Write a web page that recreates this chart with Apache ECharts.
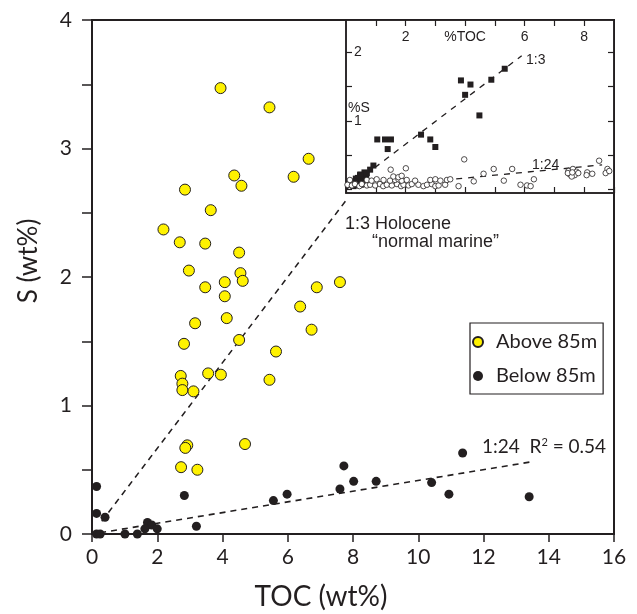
<!DOCTYPE html>
<html>
<head>
<meta charset="utf-8">
<script src="https://cdn.jsdelivr.net/npm/echarts/dist/echarts.min.js"></script>
<style>
html,body{margin:0;padding:0;background:#fff;}
#chart{width:637px;height:614px;}
</style>
</head>
<body>
<div id="chart"></div>
<script>
// ---------- Main plot data (TOC wt%, S wt%) ----------
const aboveTOC = [3.94,5.44,6.64,4.36,6.18,4.58,2.85,3.64,2.19,2.69,3.47,4.51,2.97,4.55,4.62,4.07,3.47,4.07,6.89,7.60,6.38,3.16,4.13,6.73,2.82,4.51,5.64,2.72,2.77,2.77,3.11,3.56,3.95,5.44,2.92,2.86,4.69,2.73,3.23];
const aboveS   = [3.47,3.32,2.92,2.79,2.78,2.71,2.68,2.52,2.37,2.27,2.26,2.19,2.05,2.03,1.97,1.96,1.92,1.85,1.92,1.96,1.77,1.64,1.68,1.59,1.48,1.51,1.42,1.23,1.17,1.12,1.11,1.25,1.24,1.20,0.69,0.67,0.70,0.52,0.50];
const belowTOC = [0.14,0.14,0.40,0.14,0.25,1.01,1.39,1.70,1.83,1.62,2.00,2.83,3.20,5.56,5.98,7.60,7.72,8.02,8.71,10.41,10.94,11.36,13.40];
const belowS   = [0.37,0.16,0.13,0.00,0.00,0.00,0.00,0.09,0.07,0.04,0.04,0.30,0.06,0.26,0.31,0.35,0.53,0.41,0.41,0.40,0.31,0.63,0.29];
const line13TOC = [0.3, 7.8];
const line13S   = [0.1, 2.6];
const line24TOC = [0.25, 13.5];
const line24S   = [0.01, 0.563];
const mainXTicks = [0,2,4,6,8,10,12,14,16];
const mainYTicks = [0,1,2,3,4];

// ---------- Inset data (%TOC, %S) ----------
const sqTOC = [5.33,4.88,3.86,4.18,4.00,4.48,2.52,2.83,3.00,1.05,1.31,1.51,1.40,0.92,0.81,
               0.35,0.40,0.48,0.55,0.62,0.30,0.45,0.55,0.68,0.38,0.25,0.42,0.50,0.33,0.60,0.28,0.47,0.70];
const sqS   = [1.76,1.60,1.59,1.53,1.38,1.08,0.80,0.73,0.62,0.73,0.73,0.73,0.59,0.35,0.29,
               0.12,0.17,0.22,0.18,0.25,0.08,0.10,0.12,0.20,0.06,0.05,0.14,0.07,0.16,0.14,0.12,0.21,0.24];
const ocTOC = [0.05,0.20,0.30,0.45,0.53,0.70,0.81,0.98,1.14,1.25,1.37,1.54,1.71,1.85,1.93,2.10,2.21,2.43,2.60,2.72,2.88,3.00,3.11,3.33,3.78,5.86,6.08,6.20,
               0.13,0.70,0.86,1.03,1.26,1.48,1.65,1.76,1.87,2.04,2.32,2.83,3.00,3.17,3.39,3.50,
               1.59,1.76,1.87,
               1.50,2.01,3.97,4.96,5.58,4.62,4.29,5.30,6.31,
               7.47,7.62,7.74,7.52,7.68,7.58,7.80,7.45,7.60,
               8.10,8.08,8.27,8.50,8.78,8.72,8.84];
const ocS   = [0.07,0.06,0.08,0.05,0.08,0.06,0.07,0.06,0.08,0.05,0.07,0.06,0.08,0.05,0.07,0.06,0.08,0.07,0.05,0.07,0.08,0.05,0.06,0.07,0.05,0.07,0.06,0.05,
               0.14,0.14,0.13,0.15,0.14,0.13,0.14,0.15,0.13,0.14,0.13,0.14,0.15,0.13,0.14,0.15,
               0.19,0.18,0.20,
               0.29,0.31,0.44,0.30,0.30,0.23,0.12,0.13,0.15,
               0.27,0.30,0.26,0.22,0.21,0.19,0.24,0.24,0.25,
               0.25,0.21,0.23,0.42,0.30,0.24,0.27];
const in13TOC = [0, 5.9];
const in13S   = [0, 1.95];
const in24TOC = [3.7, 8.6];
const in24S   = [0.155, 0.36];
const insetXLabels = {2:'2', 4:'%TOC', 6:'6', 8:'8'};
const insetYTicks = [0, 0.5, 1, 1.5, 2];
const insetYLabels = [1, 2];

const zip = (a,b) => a.map((v,i)=>[v,b[i]]);
const INK = '#231f20';
const SANS = 'Lato';
const ARIAL = 'Liberation Sans';

const chart = echarts.init(document.getElementById('chart'), null, {renderer:'canvas'});
const dashed = {color: INK, width: 1.6, type: [6,5]};

chart.setOption({
  animation: false,
  backgroundColor: '#fff',
  grid: [
    {left: 92, top: 20, width: 522, height: 514, show: true, borderColor: INK, borderWidth: 2, backgroundColor: 'transparent'},
    {left: 346, top: 20, width: 268, height: 173, show: true, borderColor: INK, borderWidth: 1.5, backgroundColor: '#fff'}
  ],
  xAxis: [
    {gridIndex: 0, type: 'value', min: 0, max: 16, interval: 2,
     axisLine: {show: true, onZero: false, lineStyle: {color: INK, width: 2}},
     axisTick: {show: true, inside: false, length: 8, lineStyle: {color: INK, width: 1.5}},
     axisLabel: {show: true, margin: 13, fontSize: 21, fontFamily: SANS, color: INK,
                 customValues: mainXTicks},
     splitLine: {show: false}},
    {gridIndex: 1, type: 'value', position: 'top', min: 0, max: 9, interval: 1,
     axisLine: {show: true, onZero: false, lineStyle: {color: INK, width: 1.5}},
     axisTick: {show: true, inside: true, length: 6, lineStyle: {color: INK, width: 1.2}},
     axisLabel: {show: true, inside: true, margin: 10, fontSize: 14, fontFamily: ARIAL, color: INK,
                 showMinLabel: false, showMaxLabel: false,
                 formatter: v => insetXLabels[v] || ''},
     splitLine: {show: false}},
    {gridIndex: 1, type: 'value', position: 'bottom', min: 0, max: 9, interval: 1,
     axisLine: {show: true, onZero: false, lineStyle: {color: INK, width: 1.5}},
     axisTick: {show: true, inside: true, length: 6, lineStyle: {color: INK, width: 1.2}},
     axisLabel: {show: false},
     splitLine: {show: false}}
  ],
  yAxis: [
    {gridIndex: 0, type: 'value', min: 0, max: 4, interval: 0.5,
     axisLine: {show: true, onZero: false, lineStyle: {color: INK, width: 2}},
     axisTick: {show: true, inside: false, length: 10, lineStyle: {color: INK, width: 1.5}},
     axisLabel: {show: true, margin: 20, fontSize: 21, fontFamily: SANS, color: INK,
                 customValues: mainYTicks},
     splitLine: {show: false}},
    {gridIndex: 1, type: 'value', position: 'left', min: -0.05, max: 2.47,
     axisLine: {show: true, onZero: false, lineStyle: {color: INK, width: 1.5}},
     axisTick: {show: true, inside: true, length: 6, customValues: insetYTicks, lineStyle: {color: INK, width: 1.2}},
     axisLabel: {show: true, inside: true, margin: 8, fontSize: 14, fontFamily: ARIAL, color: INK,
                 padding: [6,0,0,0], customValues: insetYLabels},
     splitLine: {show: false}},
    {gridIndex: 1, type: 'value', position: 'right', min: -0.05, max: 2.47,
     axisLine: {show: true, onZero: false, lineStyle: {color: INK, width: 1.5}},
     axisTick: {show: true, inside: true, length: 6, customValues: insetYTicks, lineStyle: {color: INK, width: 1.2}},
     axisLabel: {show: false},
     splitLine: {show: false}}
  ],
  legend: {
    show: true, orient: 'vertical', left: 470, top: 323,
    padding: [9, 6, 8, 2], itemGap: 14,
    itemWidth: 26, itemHeight: 10,
    borderColor: INK, borderWidth: 1.2, backgroundColor: '#fff',
    textStyle: {fontSize: 20, fontFamily: SANS, color: INK, lineHeight: 20},
    data: [{name: 'Above 85m', icon: 'circle'}, {name: 'Below 85m', icon: 'circle'}]
  },
  series: [
    {type: 'line', name: 'l13', xAxisIndex: 0, yAxisIndex: 0, data: zip(line13TOC, line13S),
     symbol: 'none', lineStyle: dashed, z: 1, silent: true},
    {type: 'line', name: 'l24', xAxisIndex: 0, yAxisIndex: 0, data: zip(line24TOC, line24S),
     symbol: 'none', lineStyle: dashed, z: 1, silent: true},
    {type: 'scatter', name: 'Above 85m', xAxisIndex: 0, yAxisIndex: 0, data: zip(aboveTOC, aboveS),
     symbol: 'circle', symbolSize: 11,
     itemStyle: {color: '#fff200', borderColor: INK, borderWidth: 1, opacity: 1}, z: 3},
    {type: 'scatter', name: 'Below 85m', xAxisIndex: 0, yAxisIndex: 0, data: zip(belowTOC, belowS),
     symbol: 'circle', symbolSize: 9,
     itemStyle: {color: INK, opacity: 1}, z: 3},
    {type: 'line', name: 'i13', xAxisIndex: 1, yAxisIndex: 1, data: zip(in13TOC, in13S),
     symbol: 'none', lineStyle: {color: INK, width: 1.3, type: [6,6]}, z: 3, silent: true},
    {type: 'line', name: 'i24', xAxisIndex: 1, yAxisIndex: 1, data: zip(in24TOC, in24S),
     symbol: 'none', lineStyle: {color: INK, width: 1.3, type: [6,6]}, z: 3, silent: true},
    {type: 'scatter', name: 'inSq', xAxisIndex: 1, yAxisIndex: 1, data: zip(sqTOC, sqS),
     symbol: 'rect', symbolSize: 6, itemStyle: {color: INK, opacity: 1}, z: 4},
    {type: 'scatter', name: 'inOc', xAxisIndex: 1, yAxisIndex: 1, data: zip(ocTOC, ocS),
     symbol: 'circle', symbolSize: 5.5, itemStyle: {color: '#fff', borderColor: INK, borderWidth: 0.8, opacity: 1}, z: 4}
  ],
  graphic: [
    {type: 'text', x: 321, y: 597, style: {text: 'TOC (wt%)', fontSize: 28, fontFamily: SANS, fill: INK, align: 'center', verticalAlign: 'middle'}},
    {type: 'text', x: 29, y: 261, rotation: Math.PI/2, style: {text: 'S (wt%)', fontSize: 26, fontFamily: SANS, fill: INK, align: 'center', verticalAlign: 'middle'}},
    {type: 'text', x: 345, y: 224, style: {text: '1:3 Holocene', fontSize: 18, fontFamily: ARIAL, fill: INK, align: 'left', verticalAlign: 'middle'}},
    {type: 'text', x: 372, y: 242, style: {text: '\u201Cnormal marine\u201D', fontSize: 18, fontFamily: ARIAL, fill: INK, align: 'left', verticalAlign: 'middle'}},
    {type: 'text', x: 482, y: 447, style: {text: '1:24  R{sup|2} = 0.54', fontSize: 19, fontFamily: SANS, fill: INK, align: 'left', verticalAlign: 'middle',
      rich: {sup: {fontSize: 11, fontFamily: SANS, fill: INK, verticalAlign: 'top', lineHeight: 20}}}},
    {type: 'text', x: 526, y: 60, z: 10, style: {text: '1:3', fontSize: 14, fontFamily: ARIAL, fill: INK, align: 'left', verticalAlign: 'middle'}},
    {type: 'text', x: 532, y: 165, z: 10, style: {text: '1:24', fontSize: 14, fontFamily: ARIAL, fill: INK, align: 'left', verticalAlign: 'middle'}},
    {type: 'text', x: 348, y: 108, z: 10, style: {text: '%S', fontSize: 14, fontFamily: ARIAL, fill: INK, align: 'left', verticalAlign: 'middle'}}
  ]
});
</script>
</body>
</html>
